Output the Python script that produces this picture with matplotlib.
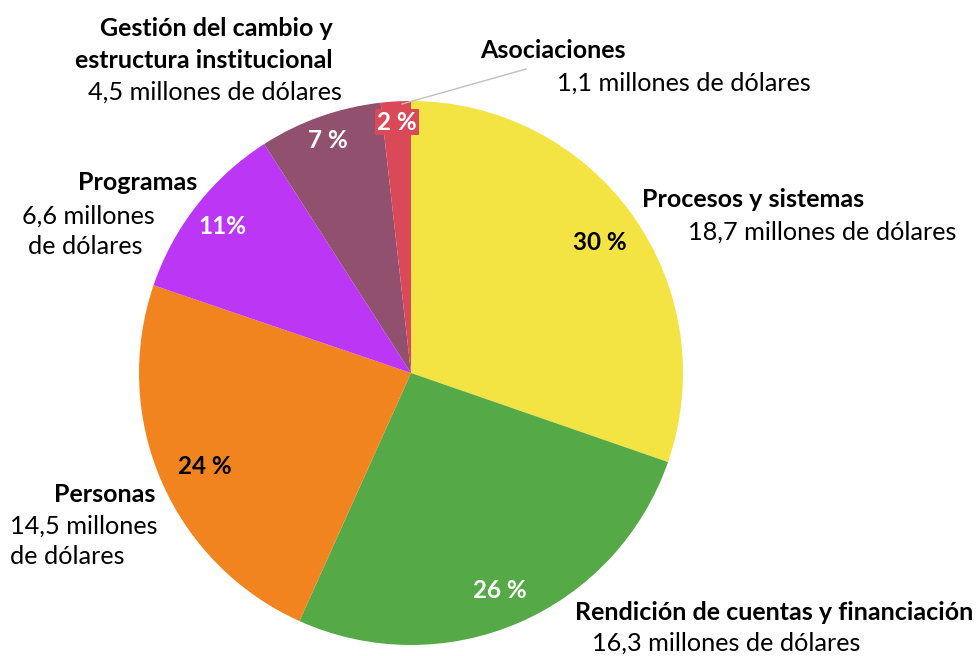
import matplotlib
matplotlib.use("Agg")
import matplotlib.pyplot as plt

categories = ["Procesos y sistemas", "Rendición de cuentas y financiación", "Personas",
              "Programas", "Gestión del cambio y estructura institucional", "Asociaciones"]
values = [18.7, 16.3, 14.5, 6.6, 4.5, 1.1]
pct_labels = ["30 %", "26 %", "24 %", "11%", "7 %", "2 %"]
value_labels = ["18,7 millones de dólares", "16,3 millones de dólares", "14,5 millones de dólares",
                "6,6 millones de dólares", "4,5 millones de dólares", "1,1 millones de dólares"]
colors = ["#F3E443", "#55AA47", "#F2841F", "#BB37F5", "#92506F", "#D94958"]
pct_colors = ["black", "white", "black", "white", "white", "white"]

plt.rcParams['font.family'] = ['Lato', 'DejaVu Sans']

W, H = 978, 656
fig = plt.figure(figsize=(W / 100, H / 100), dpi=100)
ax = fig.add_axes([0, 0, 1, 1])

cx, cy, r = 411, H - 373, 272
ax.pie(values, colors=colors, startangle=90, counterclock=False, center=(cx, cy), radius=r,
       wedgeprops=dict(edgecolor="none", linewidth=0), frame=True)
ax.set_xlim(0, W)
ax.set_ylim(0, H)
ax.set_aspect('equal')
ax.axis('off')

def T(x, y, s, bold=False, size=18.2, color="black", ha="left", **kw):
    ax.text(x, H - y, s, fontsize=size, fontweight="bold" if bold else "normal",
            color=color, ha=ha, va="center", **kw)

# percentage labels
PS = 17.5
pct_pos = [(600, 243), (500, 590), (205, 467), (222, 227), (328, 141), (397, 122)]
for (x, y), s, c in zip(pct_pos, pct_labels, pct_colors):
    if s == "2 %":
        ax.text(x, H - y, s, fontsize=PS, fontweight="bold", color=c, ha="center", va="center",
                bbox=dict(boxstyle="square,pad=0.08", fc=colors[5], ec="none"))
    else:
        ax.text(x, H - y, s, fontsize=PS, fontweight="bold", color=c, ha="center", va="center")

# leader line for Asociaciones
ax.plot([402, 526], [H - 104, H - 69], color="#BFBFBF", lw=1)

BS = 18
RS = 18.2
# Procesos
T(642, 200, "Procesos y sistemas", bold=True, size=BS)
T(688, 232, value_labels[0], size=RS)
# Rendición
T(575, 612, "Rendición de cuentas y financiación", bold=True, size=BS)
T(592, 643, value_labels[1], size=RS)
# Personas
T(155, 495, "Personas", bold=True, size=BS, ha="right")
T(10, 526, "14,5 millones", size=RS)
T(10, 557, "de dólares", size=RS)
# Programas
T(197, 183, "Programas", bold=True, size=BS, ha="right")
T(22, 216, "6,6 millones", size=RS)
T(28, 247, "de dólares", size=RS)
# Gestión
T(333, 28, "Gestión del cambio y", bold=True, size=BS, ha="right")
T(333, 60, "estructura institucional", bold=True, size=BS, ha="right")
T(342, 92, value_labels[4], size=RS, ha="right")
# Asociaciones
T(480, 50, "Asociaciones", bold=True, size=BS)
T(557, 83, value_labels[5], size=RS)

fig.savefig("out.png", dpi=100)
